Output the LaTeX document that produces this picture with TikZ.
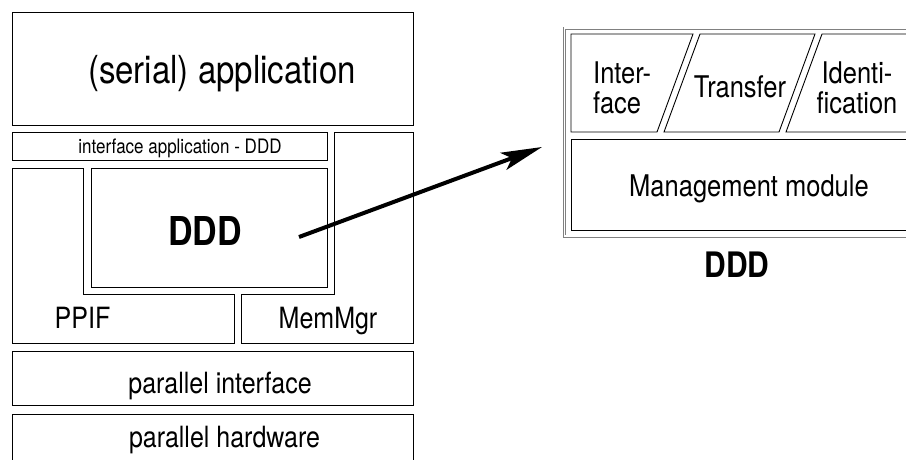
\documentclass[tikz,border=0pt]{standalone}
\usepackage{fontspec}
\usepackage{graphicx}
\setmainfont{TeX Gyre Heros}
\usetikzlibrary{arrows.meta}
\newcommand{\vstr}[1]{\scalebox{1}[1.17]{#1}}
\newcommand{\fs}[1]{\fontsize{#1}{#1}\selectfont}
\tikzset{
  box/.style={draw=black,line width=0.9pt},
  lbl/.style={inner sep=0pt,anchor=base},
  frame/.style={draw=gray,line width=0.8pt,double=white,double distance=1.4pt},
  bigarrow/.style={line width=4pt,-{Stealth[length=41pt,width=18pt,inset=9pt]}}
}
\begin{document}
\begin{tikzpicture}[x=1pt,y=-1pt]
\useasboundingbox (0,0) rectangle (906,459);
\begin{scope}
\clip (0,0) rectangle (906,459);
% left stack
\draw[box] (12,12) rectangle (413,125);
\draw[box] (12,132) rectangle (327,160);
\draw[box] (91,168) rectangle (327,287);
\draw[box] (12,168) -- (83,168) -- (83,294) -- (234,294) -- (234,343) -- (12,343) -- cycle;
\draw[box] (334,132) -- (413,132) -- (413,343) -- (241,343) -- (241,294) -- (334,294) -- cycle;
\draw[box] (12,351) rectangle (413,405);
\draw[box] (12,414) rectangle (413,470);

\node[lbl] (serial) at (222,83) {\vstr{\fs{33}(serial) application}};
\node[lbl] (ifapp) at (180,153) {\vstr{\fs{17}interface application - DDD}};
\node[lbl] (dddl) at (205,245) {\vstr{\fs{34}\bfseries DDD}};
\node[lbl] (ppif) at (82.5,328) {\vstr{\fs{25}PPIF}};
\node[lbl] (memmgr) at (328,328) {\vstr{\fs{25}MemMgr}};
\node[lbl] (parif) at (220,393) {\vstr{\fs{25}parallel interface}};
\node[lbl] (parhw) at (224.5,447) {\vstr{\fs{25}parallel hardware}};

% right module
\draw[frame] (564.5,28) rectangle (930,236);
\draw[box] (571,34) -- (693,34) -- (657,132) -- (571,132) -- cycle;
\draw[box] (700,34) -- (815,34) -- (779,132) -- (664,132) -- cycle;
\draw[box] (822,34) -- (930,34) -- (930,132) -- (786,132) -- cycle;
\draw[box] (571,139) rectangle (930,230);

\node[inner sep=0pt,anchor=base west] (iface) at (593,83)
  {\vstr{\fontsize{25.5}{25.4}\selectfont\begin{tabular}[t]{@{}l@{}}Inter-\\face\end{tabular}}};
\node[lbl] (transfer) at (740,97) {\vstr{\fs{25.5}Transfer}};
\node[lbl] (ident) at (857,83)
  {\vstr{\fontsize{25.5}{25.4}\selectfont\begin{tabular}[t]{@{}c@{}}Identi-\\fication\end{tabular}}};
\node[lbl] (mgmt) at (749,196.5) {\vstr{\fs{25.5}Management module}};
\node[lbl] (dddr) at (737,277) {\vstr{\fs{30}\bfseries DDD}};

\coordinate (arrS) at (299,237);
\coordinate (arrE) at (542,147);
\draw[bigarrow] (arrS) -- (arrE);
\end{scope}
\end{tikzpicture}
\end{document}
